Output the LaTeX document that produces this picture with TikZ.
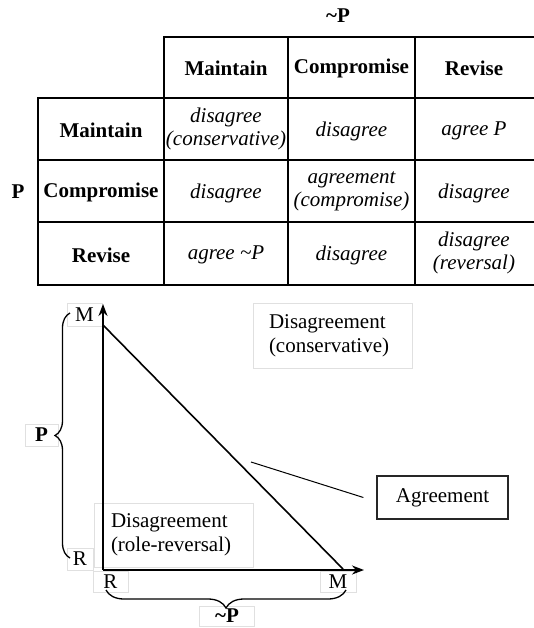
\documentclass[tikz,border=0pt]{standalone}
\usepackage{fontspec}
\setmainfont{Liberation Serif}
\usetikzlibrary{arrows.meta,decorations.pathreplacing}
\begin{document}
\begin{tikzpicture}[x=1pt,y=-1pt,
  every node/.style={font=\fontsize{21}{24}\selectfont},
  grid/.style={line width=2pt,line cap=rect},
  head/.style={font=\fontsize{21}{24}\selectfont\bfseries},
  cell/.style={font=\fontsize{21}{23}\selectfont\itshape,align=center},
  faint/.style={draw=black!12,line width=0.8pt,inner sep=0pt},
  axis/.style={line width=1.8pt,-{Stealth[length=12pt,width=9pt]}},
  bracestyle/.style={line width=1.3pt,decorate},
]
\useasboundingbox (0,0) rectangle (533,628);
% ---------- table ----------
\draw[grid] (164,37) -- (533,37);
\draw[grid] (38,98) -- (533,98);
\draw[grid] (38,160) -- (533,160);
\draw[grid] (38,222) -- (533,222);
\draw[grid] (38,285) -- (533,285);
\draw[grid] (38,98) -- (38,285);
\draw[grid] (164,37) -- (164,285);
\draw[grid] (288,37) -- (288,285);
\draw[grid] (415,37) -- (415,285);
\node[head] (np) at (338,16) {\textasciitilde P};
\node[head] (pp) at (18,192) {P};
\node[head] (h1) at (226,68) {Maintain};
\node[head] (h2) at (351.5,68) {Compromise};
\node[head] (h3) at (474,68) {Revise};
\node[head] (r1) at (101,130) {Maintain};
\node[head] (r2) at (101,192) {Compromise};
\node[head] (r3) at (101,255) {Revise};
\node[cell] (c11) at (226,129) {disagree\\(conservative)};
\node[cell] (c12) at (351.5,131) {disagree};
\node[cell] (c13) at (474,131) {agree P};
\node[cell] (c21) at (226,193) {disagree};
\node[cell] (c22) at (351.5,191) {agreement\\(compromise)};
\node[cell] (c23) at (474,193) {disagree};
\node[cell] (c31) at (226,255) {agree \textasciitilde P};
\node[cell] (c32) at (351.5,255) {disagree};
\node[cell] (c33) at (474,253) {disagree\\(reversal)};
% ---------- diagram ----------
\coordinate (O) at (103,570);
\coordinate (ytip) at (103,304);
\coordinate (xtip) at (364,570);
\coordinate (dtop) at (103,325);
\coordinate (dbot) at (343,569);
\node[faint,minimum width=159pt,minimum height=65pt,text width=127pt,inner xsep=16pt,align=left] (dcons) at (332.5,335.5) {Disagreement\\(conservative)};
\node[faint,minimum width=159pt,minimum height=64pt,text width=125pt,inner xsep=17pt,align=left] (drole) at (173.5,535) {Disagreement\\(role-reversal)};
\node[faint,minimum width=35pt,minimum height=23pt] (mtop) at (84.5,314.5) {M};
\node[faint,minimum width=26pt,minimum height=22pt] (rleft) at (80,559) {R};
\node[faint,minimum width=35pt,minimum height=21pt] (rbot) at (110.5,581.5) {R};
\node[faint,minimum width=36pt,minimum height=21pt] (mbot) at (338,582) {M};
\node[faint,minimum width=33pt,minimum height=22pt,font=\fontsize{21}{24}\selectfont\bfseries] (pbr) at (41.5,435) {P};
\node[faint,minimum width=55pt,minimum height=20pt,font=\fontsize{21}{24}\selectfont\bfseries] (npbr) at (227,616) {\textasciitilde P};
\node[draw=black!85,line width=1.2pt,minimum width=131pt,minimum height=43pt] (agree) at (442.5,497.5) {Agreement};
\draw[axis] (O) -- (ytip);
\draw[axis] (O) -- (xtip);
\draw[line width=1.6pt] (dtop) -- (dbot);
\coordinate (ptr) at (251,462);
\draw[line width=1pt] (ptr) -- ([xshift=-13pt]agree.west);
\coordinate (lb1) at (70,558);
\coordinate (lb2) at (70,313);
\draw[bracestyle,decoration={brace,amplitude=15pt}] (lb1) -- (lb2);
\coordinate (bb1) at (346,590);
\coordinate (bb2) at (106,590);
\draw[bracestyle,decoration={brace,amplitude=18pt}] (bb1) -- (bb2);
\end{tikzpicture}
\end{document}
